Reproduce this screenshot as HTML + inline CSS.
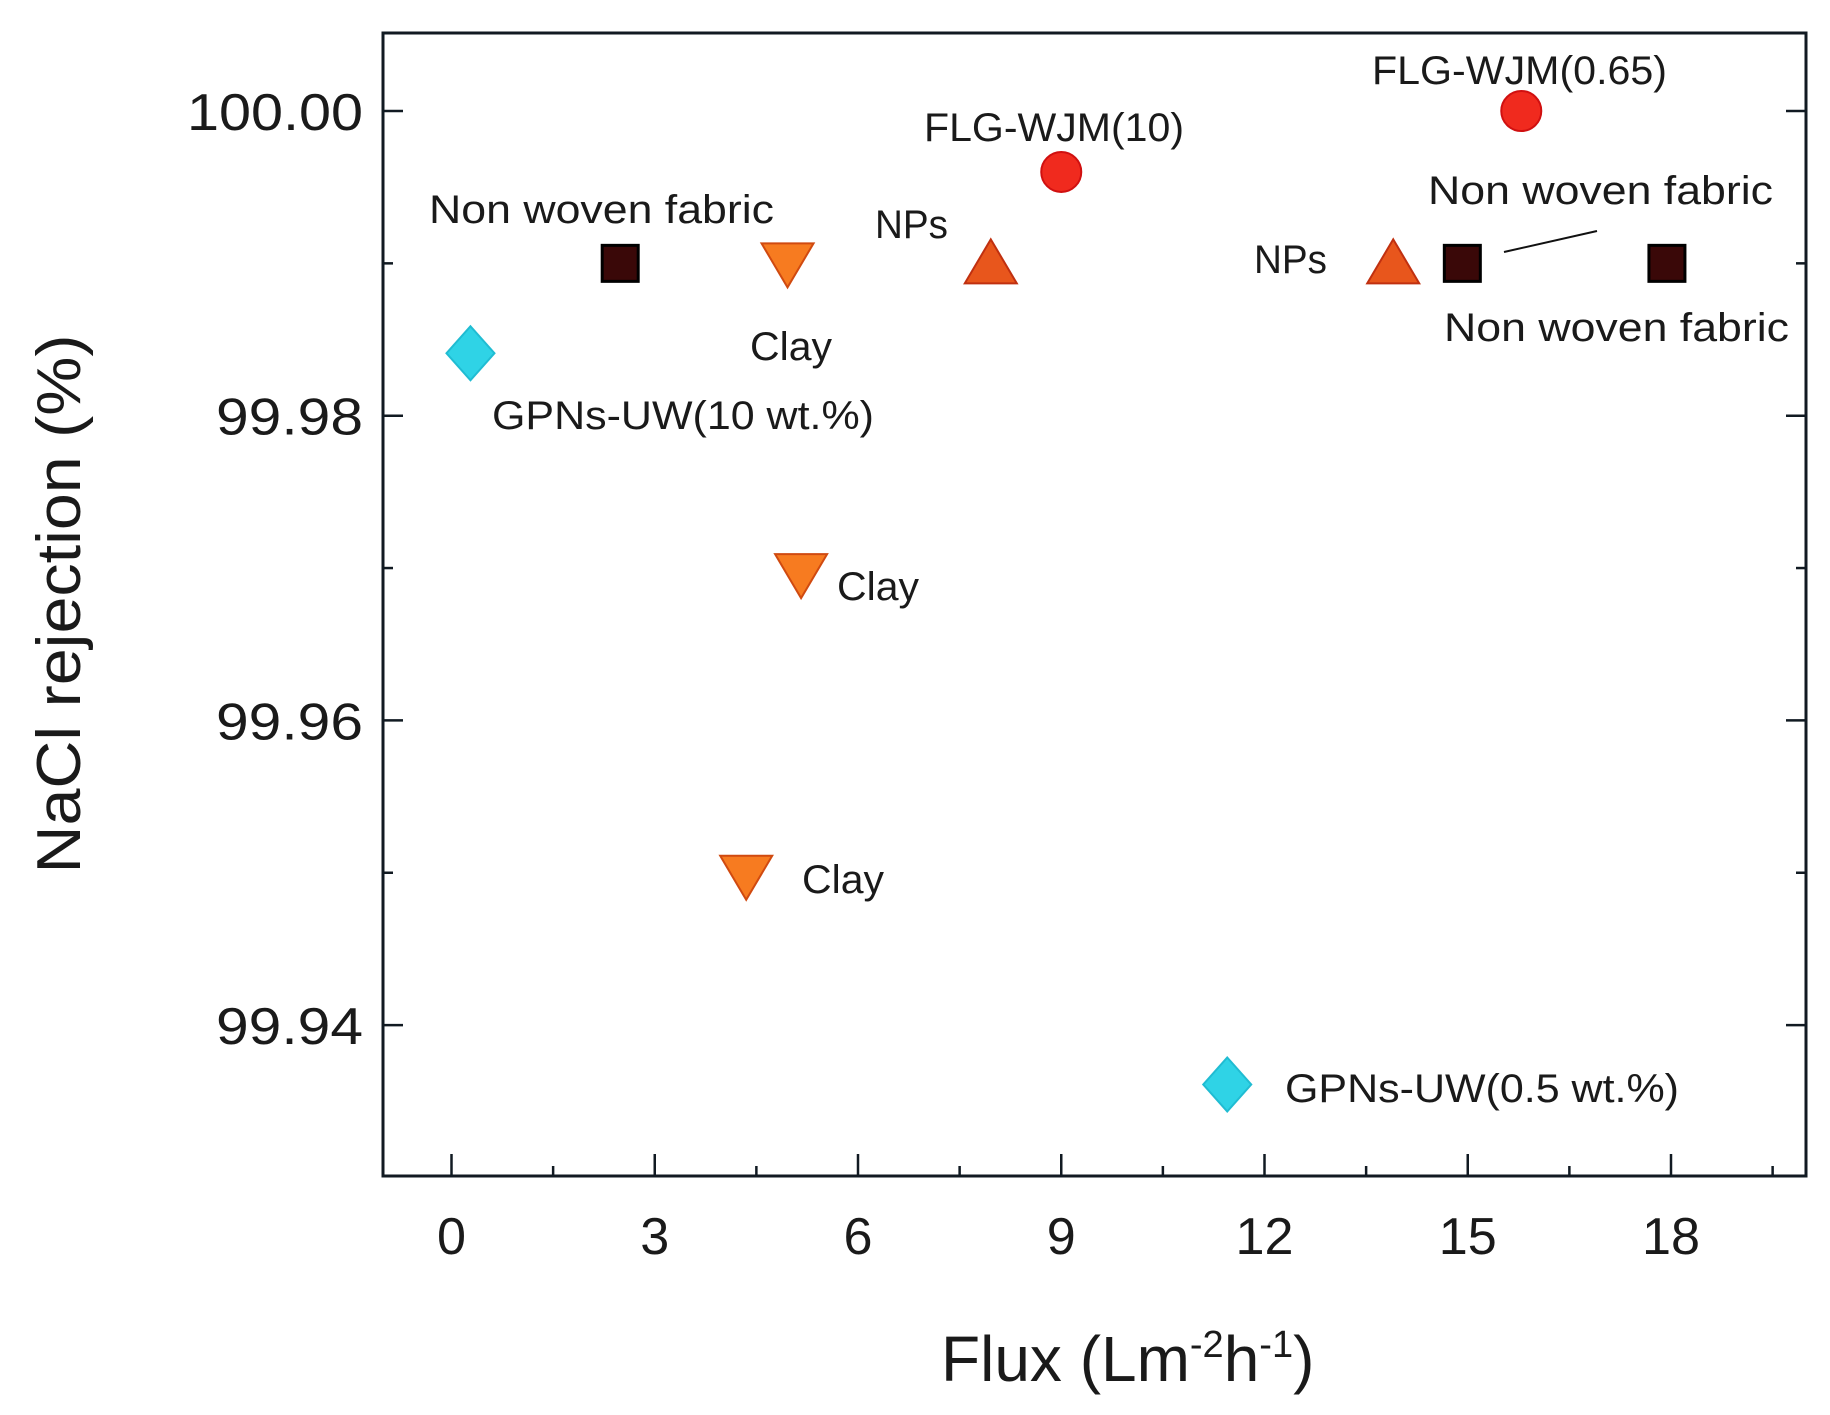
<!DOCTYPE html>
<html><head><meta charset="utf-8"><style>
html,body{margin:0;padding:0;background:#fff;}
svg{display:block;}
text{font-family:"Liberation Sans Narrow","Liberation Sans",sans-serif;fill:#1a1a1a;}
</style></head><body>
<svg id="chart" width="1830" height="1415" viewBox="0 0 1830 1415" xmlns="http://www.w3.org/2000/svg">
<g id="axes"></g>
<g id="marks"></g>
<g id="labels"></g>
</svg>
<script>
const xTicks = [0,3,6,9,12,15,18];
const yTicks = [99.94,99.96,99.98,100.00];
const yTickLabels = ["99.94","99.96","99.98","100.00"];
const pointX = [2.49,4.96,7.96,9.0,15.79,13.9,14.92,17.94,0.28,5.16,4.35,11.45];
const pointY = [99.99,99.99,99.99,99.996,100.0,99.99,99.99,99.99,99.9841,99.9696,99.9498,99.9361];
const pointType = ["square","down","up","circle","circle","up","square","square","diamond","down","down","diamond"];
const pointNames = ["nonwoven-1","clay-1","nps-1","flg-wjm-10","flg-wjm-065","nps-2","nonwoven-2","nonwoven-3","gpns-uw-10","clay-2","clay-3","gpns-uw-05"];

const NS="http://www.w3.org/2000/svg";
const L=383,R=1806,T=33,B=1176;
function sx(v){return 451.5+(v-0)*67.75;}
function sy(v){return 111+(100-v)/0.02*304.7;}
function mk(tag,attrs,parent){const e=document.createElementNS(NS,tag);for(const k in attrs)e.setAttribute(k,attrs[k]);parent.appendChild(e);return e;}
const axes=document.getElementById('axes'),marks=document.getElementById('marks'),labels=document.getElementById('labels');

const frame=mk('rect',{x:L,y:T,width:R-L,height:B-T,fill:'none',stroke:'#111a22','stroke-width':3},axes);



for(let v=0;v<=19.5;v+=1.5){
  const major=Math.abs(v/3-Math.round(v/3))<1e-6;
  const t=mk('line',{x1:sx(v),x2:sx(v),y1:B,y2:B-(major?22:10),stroke:'#111a22','stroke-width':2.5},axes);
  
  
}
xTicks.forEach(v=>{
  const s=String(v);
  const t=mk('text',{x:sx(v),y:1254,'text-anchor':'middle','font-size':52,textLength:s.length*29,lengthAdjust:'spacingAndGlyphs'},axes);
  t.textContent=s;
  
  
});
for(let v=99.93;v<=100.005;v+=0.01){
  const yy=sy(v);
  if(yy<T||yy>B)continue;
  const major=Math.abs((v*100)%2-0)<0.05||Math.abs((v*100)%2-2)<0.05;
  [[L,L+(major?20:10)],[R,R-(major?20:10)]].forEach(p=>{
    const t=mk('line',{x1:p[0],x2:p[1],y1:yy,y2:yy,stroke:'#111a22','stroke-width':2.5},axes);
    
    
  });
}
yTicks.forEach((v,i)=>{
  const s=yTickLabels[i];
  const t=mk('text',{x:363,y:sy(v)+19,'text-anchor':'end','font-size':52,textLength:s.length===6?176:147,lengthAdjust:'spacingAndGlyphs'},axes);
  t.textContent=s;
  
  
});
const xt=mk('text',{x:941,y:1381,'font-size':64},axes);
xt.innerHTML='Flux (Lm<tspan dy="-24" font-size="38">-2</tspan><tspan dy="24">h</tspan><tspan dy="-24" font-size="38">-1</tspan><tspan dy="24">)</tspan>';


const yt=mk('text',{x:0,y:0,'text-anchor':'middle','font-size':62,textLength:539,lengthAdjust:'spacingAndGlyphs',transform:'translate(80,604) rotate(-90)'},axes);
yt.textContent='NaCl rejection (%)';



pointX.forEach((xv,i)=>{
  const cx=sx(xv),cy=sy(pointY[i]),ty=pointType[i];let e;
  if(ty==='square') e=mk('rect',{x:cx-18,y:cy-18,width:36,height:36,fill:'#3a0808',stroke:'#000','stroke-width':3},marks);
  else if(ty==='circle') e=mk('circle',{cx:cx,cy:cy,r:20,fill:'#f02a1e',stroke:'#d01010','stroke-width':2},marks);
  else if(ty==='up') e=mk('polygon',{points:`${cx},${cy-24} ${cx+26},${cy+20} ${cx-26},${cy+20}`,fill:'#e8561c',stroke:'#c03010','stroke-width':2},marks);
  else if(ty==='down') e=mk('polygon',{points:`${cx-26},${cy-20} ${cx+26},${cy-20} ${cx},${cy+24}`,fill:'#f77b20',stroke:'#d04a10','stroke-width':2},marks);
  else e=mk('polygon',{points:`${cx},${cy-27} ${cx+24},${cy} ${cx},${cy+27} ${cx-24},${cy}`,fill:'#2fd3e6',stroke:'#20bcd2','stroke-width':2},marks);
  
  
});

const lab=[["Non woven fabric",429,223,345],["Clay",750,360,82],["GPNs-UW(10 wt.%)",492,429,382],["NPs",875,238,73],
["FLG-WJM(10)",924,141,260],["FLG-WJM(0.65)",1372,84,295],["Non woven fabric",1428,204,345],["NPs",1254,273,73],
["Non woven fabric",1444,341,345],["Clay",837,600,82],["Clay",802,893,82],["GPNs-UW(0.5 wt.%)",1285,1102,394]];
lab.forEach(l=>{
  const t=mk('text',{x:l[1],y:l[2],'font-size':40,textLength:l[3],lengthAdjust:'spacingAndGlyphs'},labels);
  t.textContent=l[0];
  
  
});
const ln=mk('line',{x1:1504,y1:252,x2:1597,y2:231,stroke:'#111','stroke-width':2},labels);


</script>
</body></html>
